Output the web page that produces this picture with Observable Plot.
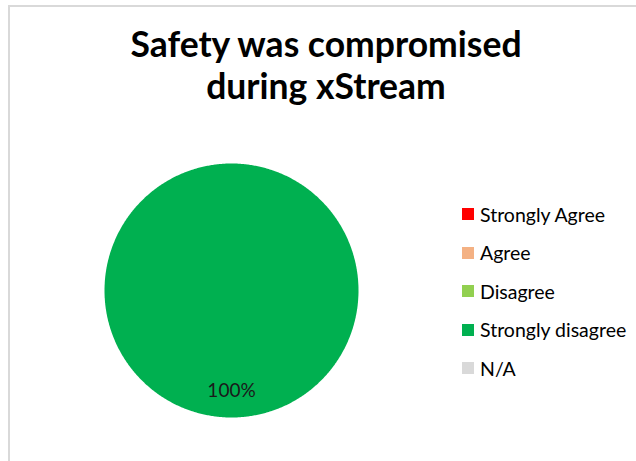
<!DOCTYPE html>
<html>
<head>
<meta charset="utf-8">
<script src="https://cdn.jsdelivr.net/npm/d3@7"></script>
<script src="https://cdn.jsdelivr.net/npm/@observablehq/plot@0.6"></script>
<style>
  body { margin: 0; background: #fff; }
  #wrap { position: relative; width: 636px; height: 461px; overflow: hidden; font-family: Lato, "Open Sans", sans-serif; background: #fff; }
  #frame { position: absolute; left: 8px; top: 5px; width: 700px; height: 600px; border-left: 2px solid #d9d9d9; border-top: 2px solid #d9d9d9; }
  #chart { position: absolute; left: 0; top: 0; }
  #title { position: absolute; left: 8px; width: 636px; top: 23px; text-align: center; font-weight: bold; font-size: 35.5px; line-height: 42px; color: #000; margin: 0; }
  #legend { position: absolute; left: 462px; top: 195px; width: 174px; }
  #legend, #legend div { font-family: Lato, sans-serif !important; font-size: 19.5px !important; color: #000 !important; margin: 0 !important; }
  #legend div > div { height: 38.5px !important; padding-bottom: 0 !important; display: flex !important; align-items: center !important; }
  #legend div > div > svg { margin-right: 6px !important; }
  #legend div > div > div { height: auto !important; overflow: visible !important; display: block !important; white-space: nowrap !important; }
</style>
</head>
<body>
<div id="wrap">
  <div id="frame"></div>
  <div id="chart"></div>
  <div id="title">Safety was compromised<br>during xStream</div>
  <div id="legend"></div>
</div>
<script>
// Data
const categories = ["Strongly Agree", "Agree", "Disagree", "Strongly disagree", "N/A"];
const values = [0, 0, 0, 1, 0];
const labels = ["", "", "", "100%", ""];
const colors = ["#ff0000", "#f4b183", "#92d050", "#00b050", "#d9d9d9"];

const rows = categories.map((c, i) => ({cat: c, value: values[i], label: labels[i]}));
const arcs = d3.pie().sort(null).value(d => d.value)(rows);

// Slice outlines (unit radius) derived from the pie angles
const slicePts = [];
for (const a of arcs) {
  const span = a.endAngle - a.startAngle;
  if (span <= 0) continue;
  const n = Math.max(2, Math.ceil(span / (Math.PI / 360)));
  const full = span >= 2 * Math.PI - 1e-9;
  if (!full) slicePts.push({cat: a.data.cat, x: 0, y: 0});
  for (let k = 0; k <= n; k++) {
    const t = a.startAngle + span * k / n;
    slicePts.push({cat: a.data.cat, x: Math.sin(t), y: Math.cos(t)});
  }
}
const labelPts = arcs.filter(a => a.data.label).map(a => {
  const m = (a.startAngle + a.endAngle) / 2;
  return {text: a.data.label, x: 0.79 * Math.sin(m), y: 0.79 * Math.cos(m)};
});

const W = 636, H = 461, cx = 231, cy = 290, R = 127;
const chart = Plot.plot({
  width: W, height: H, margin: 0,
  style: {background: "transparent", overflow: "visible"},
  x: {domain: [-cx / R, (W - cx) / R], axis: null},
  y: {domain: [-(H - cy) / R, cy / R], axis: null},
  color: {domain: categories, range: colors},
  marks: [
    Plot.line(slicePts, {x: "x", y: "y", z: "cat", fill: "cat", stroke: "none"}),
    Plot.text(labelPts, {x: "x", y: "y", text: "text", fill: "#1a1a1a", fontSize: 19, fontFamily: "Lato, sans-serif"})
  ]
});
document.getElementById("chart").appendChild(chart);

const legend = Plot.legend({
  color: {domain: categories, range: colors, type: "ordinal"},
  columns: 1,
  swatchSize: 12,
  className: "lg"
});
document.getElementById("legend").appendChild(legend);
</script>
</body>
</html>
